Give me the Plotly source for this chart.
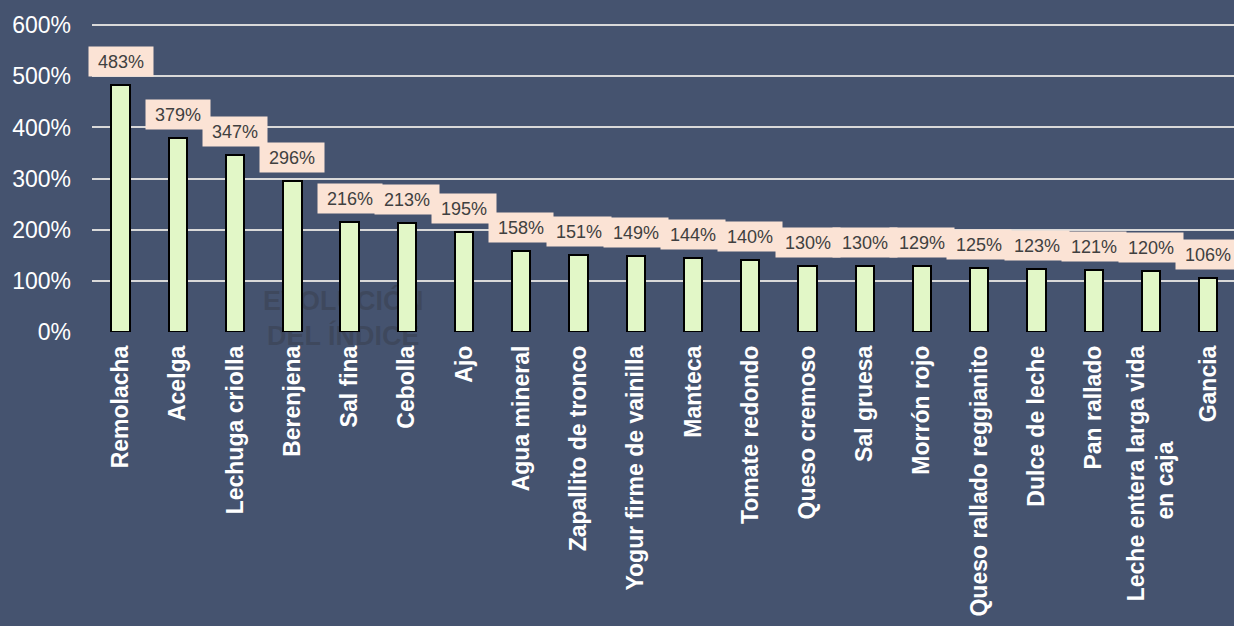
import plotly.graph_objects as go

NB = "\u00a0"
categories = ["Remolacha", "Acelga", "Lechuga criolla", "Berenjena", "Sal fina", "Cebolla", "Ajo",
              "Agua mineral", "Zapallito de tronco", "Yogur firme de vainilla", "Manteca", "Tomate redondo",
              "Queso cremoso", "Sal gruesa", "Morrón rojo", "Queso rallado reggianito", "Dulce de leche",
              "Pan rallado", "Leche entera larga vida<br>en caja" + NB * 15, "Gancia"]
values = [483, 379, 347, 296, 216, 213, 195, 158, 151, 149, 144, 140, 130, 130, 129, 125, 123, 121, 120, 106]
y_ticks = [0, 100, 200, 300, 400, 500, 600]
y_tick_labels = [f"{v}%" for v in y_ticks]

BG = "#45536f"

fig = go.Figure()
fig.add_trace(go.Bar(
    x=list(range(len(categories))), y=values,
    width=0.32,
    marker=dict(color="#e2f7c7", line=dict(color="#000000", width=2)),
    hoverinfo="skip",
))

for i, v in enumerate(values):
    fig.add_annotation(
        x=i, y=v, xref="x", yref="y", yanchor="bottom", yshift=8,
        text=f"{v}%", showarrow=False,
        font=dict(family="Liberation Sans, Arial", size=18, color="#404040"),
        bgcolor="#fbe3d5", width=56, height=21, borderpad=4,
    )

# faint watermark drawn beneath the bars
fig.add_shape(
    type="rect", xref="paper", yref="paper", x0=0.14, x1=0.30, y0=-0.04, y1=0.14,
    line=dict(width=0), fillcolor="rgba(0,0,0,0)", layer="below",
    label=dict(text="EVOLUCIÓN<br>DEL ÍNDICE", textposition="middle center",
               font=dict(family="Liberation Sans, Arial", size=27, color="rgba(55,60,72,0.45)",
                         weight="bold")),
)

fig.update_layout(
    width=1234, height=626,
    margin=dict(l=92, r=0, t=15, b=294),
    paper_bgcolor=BG, plot_bgcolor=BG,
    showlegend=False,
    bargap=0,
    xaxis=dict(
        range=[-0.5, 19.45],
        tickmode="array", tickvals=list(range(len(categories))), ticktext=categories,
        tickangle=-90,
        tickfont=dict(family="Liberation Sans, Arial", size=23, color="#ffffff", weight="bold"),
        showgrid=False, zeroline=False, showline=False, ticks="",
        ticklabelstandoff=8, automargin=False,
    ),
    yaxis=dict(
        range=[0, 620],
        tickmode="array", tickvals=y_ticks, ticktext=y_tick_labels,
        tickfont=dict(family="Liberation Sans, Arial", size=23, color="#ffffff"),
        showgrid=True, gridcolor="#d9d9d9", gridwidth=2,
        zeroline=False, showline=False, ticks="",
        ticklabelstandoff=20, automargin=False,
    ),
)

fig.write_html(
    "out.html",
    config={"displayModeBar": False},
    post_script="document.body.style.margin='0';document.body.style.background='#45536f';",
)
